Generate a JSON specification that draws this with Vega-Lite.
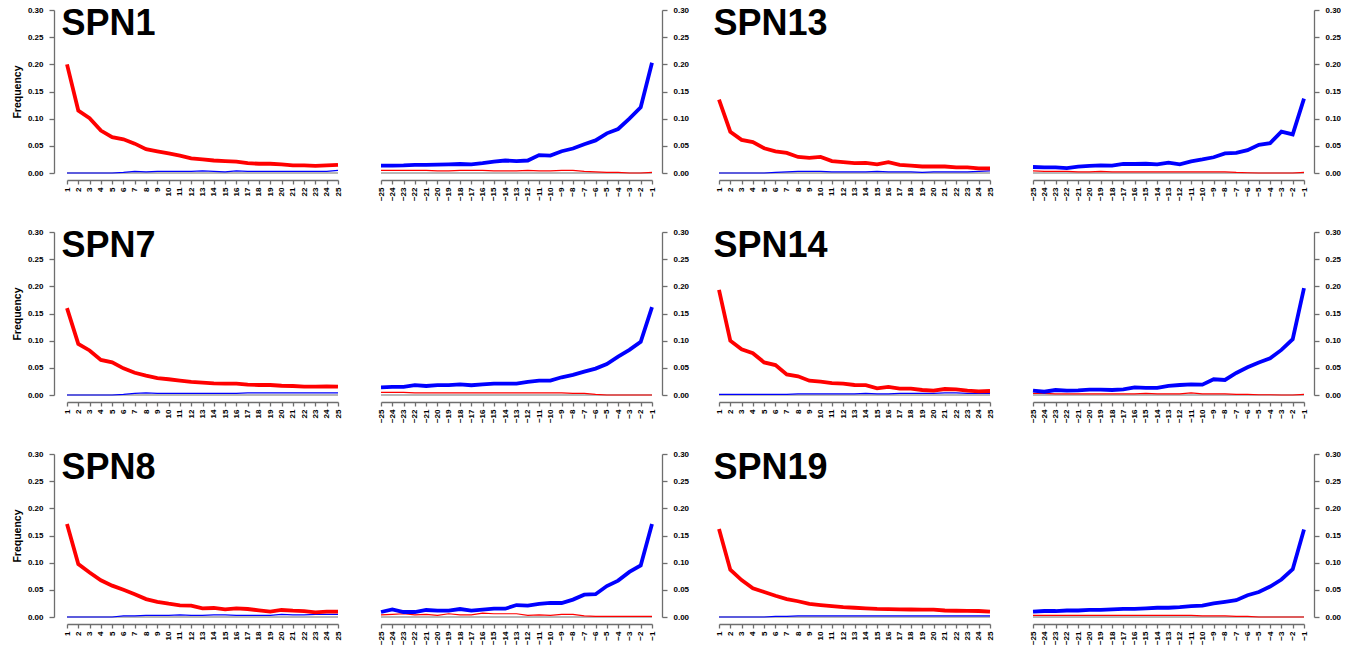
{
"$schema": "https://vega.github.io/schema/vega-lite/v6.json",
"padding": {"left": 12, "top": 6, "right": 0, "bottom": 0},
"background": "white",
"config": {
 "font": "Liberation Sans",
 "view": {"stroke": null},
 "axis": {"grid": false, "domainColor": "#6e6e6e", "tickColor": "#6e6e6e", "domainWidth": 1.3, "tickWidth": 1.3, "labelColor": "#000000", "labelFont": "Liberation Sans", "labelFontSize": 8, "labelFontWeight": "bold", "titleFont": "Liberation Sans", "titleFontSize": 10.5, "titleFontWeight": "bold", "titleColor": "#000000"}
},
"datasets": {"d": [
{"s":"SPN1","p":1,"ct":0.200,"ga":0},{"s":"SPN1","p":2,"ct":0.115,"ga":0},{"s":"SPN1","p":3,"ct":0.101,"ga":0},{"s":"SPN1","p":4,"ct":0.078,"ga":0},{"s":"SPN1","p":5,"ct":0.066,"ga":0},{"s":"SPN1","p":6,"ct":0.062,"ga":0.001},{"s":"SPN1","p":7,"ct":0.054,"ga":0.003},{"s":"SPN1","p":8,"ct":0.044,"ga":0.002},{"s":"SPN1","p":9,"ct":0.040,"ga":0.003},{"s":"SPN1","p":10,"ct":0.036,"ga":0.003},{"s":"SPN1","p":11,"ct":0.032,"ga":0.003},{"s":"SPN1","p":12,"ct":0.027,"ga":0.003},{"s":"SPN1","p":13,"ct":0.025,"ga":0.004},{"s":"SPN1","p":14,"ct":0.023,"ga":0.003},{"s":"SPN1","p":15,"ct":0.022,"ga":0.002},{"s":"SPN1","p":16,"ct":0.021,"ga":0.004},{"s":"SPN1","p":17,"ct":0.018,"ga":0.003},{"s":"SPN1","p":18,"ct":0.017,"ga":0.003},{"s":"SPN1","p":19,"ct":0.017,"ga":0.003},{"s":"SPN1","p":20,"ct":0.016,"ga":0.003},{"s":"SPN1","p":21,"ct":0.014,"ga":0.003},{"s":"SPN1","p":22,"ct":0.014,"ga":0.003},{"s":"SPN1","p":23,"ct":0.013,"ga":0.003},{"s":"SPN1","p":24,"ct":0.014,"ga":0.003},{"s":"SPN1","p":25,"ct":0.015,"ga":0.005},
{"s":"SPN1","p":-25,"ct":0.005,"ga":0.0135},{"s":"SPN1","p":-24,"ct":0.005,"ga":0.0135},{"s":"SPN1","p":-23,"ct":0.005,"ga":0.014},{"s":"SPN1","p":-22,"ct":0.005,"ga":0.015},{"s":"SPN1","p":-21,"ct":0.005,"ga":0.015},{"s":"SPN1","p":-20,"ct":0.004,"ga":0.0155},{"s":"SPN1","p":-19,"ct":0.004,"ga":0.016},{"s":"SPN1","p":-18,"ct":0.005,"ga":0.0166},{"s":"SPN1","p":-17,"ct":0.005,"ga":0.016},{"s":"SPN1","p":-16,"ct":0.005,"ga":0.018},{"s":"SPN1","p":-15,"ct":0.004,"ga":0.021},{"s":"SPN1","p":-14,"ct":0.004,"ga":0.023},{"s":"SPN1","p":-13,"ct":0.004,"ga":0.022},{"s":"SPN1","p":-12,"ct":0.005,"ga":0.023},{"s":"SPN1","p":-11,"ct":0.004,"ga":0.033},{"s":"SPN1","p":-10,"ct":0.004,"ga":0.032},{"s":"SPN1","p":-9,"ct":0.005,"ga":0.040},{"s":"SPN1","p":-8,"ct":0.005,"ga":0.045},{"s":"SPN1","p":-7,"ct":0.003,"ga":0.053},{"s":"SPN1","p":-6,"ct":0.002,"ga":0.060},{"s":"SPN1","p":-5,"ct":0.001,"ga":0.073},{"s":"SPN1","p":-4,"ct":0.001,"ga":0.081},{"s":"SPN1","p":-3,"ct":0,"ga":0.100},{"s":"SPN1","p":-2,"ct":0,"ga":0.121},{"s":"SPN1","p":-1,"ct":0.001,"ga":0.203},
{"s":"SPN13","p":1,"ct":0.135,"ga":0},{"s":"SPN13","p":2,"ct":0.076,"ga":0},{"s":"SPN13","p":3,"ct":0.061,"ga":0},{"s":"SPN13","p":4,"ct":0.057,"ga":0},{"s":"SPN13","p":5,"ct":0.0455,"ga":0},{"s":"SPN13","p":6,"ct":0.040,"ga":0.001},{"s":"SPN13","p":7,"ct":0.037,"ga":0.002},{"s":"SPN13","p":8,"ct":0.0295,"ga":0.003},{"s":"SPN13","p":9,"ct":0.028,"ga":0.003},{"s":"SPN13","p":10,"ct":0.0295,"ga":0.003},{"s":"SPN13","p":11,"ct":0.022,"ga":0.002},{"s":"SPN13","p":12,"ct":0.020,"ga":0.002},{"s":"SPN13","p":13,"ct":0.018,"ga":0.002},{"s":"SPN13","p":14,"ct":0.0185,"ga":0.002},{"s":"SPN13","p":15,"ct":0.016,"ga":0.003},{"s":"SPN13","p":16,"ct":0.020,"ga":0.002},{"s":"SPN13","p":17,"ct":0.015,"ga":0.002},{"s":"SPN13","p":18,"ct":0.0135,"ga":0.002},{"s":"SPN13","p":19,"ct":0.012,"ga":0.001},{"s":"SPN13","p":20,"ct":0.012,"ga":0.002},{"s":"SPN13","p":21,"ct":0.012,"ga":0.002},{"s":"SPN13","p":22,"ct":0.0105,"ga":0.002},{"s":"SPN13","p":23,"ct":0.0105,"ga":0.002},{"s":"SPN13","p":24,"ct":0.0086,"ga":0.003},{"s":"SPN13","p":25,"ct":0.0086,"ga":0.004},
{"s":"SPN13","p":-25,"ct":0.004,"ga":0.011},{"s":"SPN13","p":-24,"ct":0.003,"ga":0.0105},{"s":"SPN13","p":-23,"ct":0.003,"ga":0.0105},{"s":"SPN13","p":-22,"ct":0.003,"ga":0.009},{"s":"SPN13","p":-21,"ct":0.002,"ga":0.0117},{"s":"SPN13","p":-20,"ct":0.002,"ga":0.013},{"s":"SPN13","p":-19,"ct":0.003,"ga":0.014},{"s":"SPN13","p":-18,"ct":0.002,"ga":0.0135},{"s":"SPN13","p":-17,"ct":0.002,"ga":0.0166},{"s":"SPN13","p":-16,"ct":0.002,"ga":0.0166},{"s":"SPN13","p":-15,"ct":0.002,"ga":0.017},{"s":"SPN13","p":-14,"ct":0.002,"ga":0.016},{"s":"SPN13","p":-13,"ct":0.002,"ga":0.019},{"s":"SPN13","p":-12,"ct":0.002,"ga":0.016},{"s":"SPN13","p":-11,"ct":0.002,"ga":0.0215},{"s":"SPN13","p":-10,"ct":0.002,"ga":0.025},{"s":"SPN13","p":-9,"ct":0.002,"ga":0.029},{"s":"SPN13","p":-8,"ct":0.002,"ga":0.036},{"s":"SPN13","p":-7,"ct":0.001,"ga":0.037},{"s":"SPN13","p":-6,"ct":0.0005,"ga":0.042},{"s":"SPN13","p":-5,"ct":0,"ga":0.052},{"s":"SPN13","p":-4,"ct":0,"ga":0.055},{"s":"SPN13","p":-3,"ct":0,"ga":0.076},{"s":"SPN13","p":-2,"ct":0,"ga":0.071},{"s":"SPN13","p":-1,"ct":0.001,"ga":0.137},
{"s":"SPN7","p":1,"ct":0.160,"ga":0},{"s":"SPN7","p":2,"ct":0.094,"ga":0},{"s":"SPN7","p":3,"ct":0.082,"ga":0},{"s":"SPN7","p":4,"ct":0.0645,"ga":0},{"s":"SPN7","p":5,"ct":0.060,"ga":0},{"s":"SPN7","p":6,"ct":0.049,"ga":0.001},{"s":"SPN7","p":7,"ct":0.041,"ga":0.003},{"s":"SPN7","p":8,"ct":0.0357,"ga":0.004},{"s":"SPN7","p":9,"ct":0.031,"ga":0.003},{"s":"SPN7","p":10,"ct":0.029,"ga":0.003},{"s":"SPN7","p":11,"ct":0.0264,"ga":0.003},{"s":"SPN7","p":12,"ct":0.024,"ga":0.003},{"s":"SPN7","p":13,"ct":0.0227,"ga":0.003},{"s":"SPN7","p":14,"ct":0.0215,"ga":0.003},{"s":"SPN7","p":15,"ct":0.021,"ga":0.003},{"s":"SPN7","p":16,"ct":0.021,"ga":0.003},{"s":"SPN7","p":17,"ct":0.019,"ga":0.004},{"s":"SPN7","p":18,"ct":0.0184,"ga":0.004},{"s":"SPN7","p":19,"ct":0.0184,"ga":0.004},{"s":"SPN7","p":20,"ct":0.017,"ga":0.004},{"s":"SPN7","p":21,"ct":0.0166,"ga":0.004},{"s":"SPN7","p":22,"ct":0.0154,"ga":0.004},{"s":"SPN7","p":23,"ct":0.0154,"ga":0.004},{"s":"SPN7","p":24,"ct":0.016,"ga":0.004},{"s":"SPN7","p":25,"ct":0.0154,"ga":0.004},
{"s":"SPN7","p":-25,"ct":0.005,"ga":0.014},{"s":"SPN7","p":-24,"ct":0.005,"ga":0.0148},{"s":"SPN7","p":-23,"ct":0.005,"ga":0.0148},{"s":"SPN7","p":-22,"ct":0.004,"ga":0.018},{"s":"SPN7","p":-21,"ct":0.004,"ga":0.0166},{"s":"SPN7","p":-20,"ct":0.004,"ga":0.018},{"s":"SPN7","p":-19,"ct":0.004,"ga":0.018},{"s":"SPN7","p":-18,"ct":0.004,"ga":0.0197},{"s":"SPN7","p":-17,"ct":0.004,"ga":0.018},{"s":"SPN7","p":-16,"ct":0.004,"ga":0.0197},{"s":"SPN7","p":-15,"ct":0.004,"ga":0.021},{"s":"SPN7","p":-14,"ct":0.004,"ga":0.021},{"s":"SPN7","p":-13,"ct":0.004,"ga":0.021},{"s":"SPN7","p":-12,"ct":0.004,"ga":0.024},{"s":"SPN7","p":-11,"ct":0.004,"ga":0.0264},{"s":"SPN7","p":-10,"ct":0.004,"ga":0.0264},{"s":"SPN7","p":-9,"ct":0.004,"ga":0.0326},{"s":"SPN7","p":-8,"ct":0.003,"ga":0.037},{"s":"SPN7","p":-7,"ct":0.003,"ga":0.043},{"s":"SPN7","p":-6,"ct":0.001,"ga":0.0486},{"s":"SPN7","p":-5,"ct":0,"ga":0.057},{"s":"SPN7","p":-4,"ct":0,"ga":0.0707},{"s":"SPN7","p":-3,"ct":0,"ga":0.083},{"s":"SPN7","p":-2,"ct":0,"ga":0.098},{"s":"SPN7","p":-1,"ct":0,"ga":0.1617},
{"s":"SPN14","p":1,"ct":0.1936,"ga":0.001},{"s":"SPN14","p":2,"ct":0.100,"ga":0.001},{"s":"SPN14","p":3,"ct":0.084,"ga":0.001},{"s":"SPN14","p":4,"ct":0.077,"ga":0.001},{"s":"SPN14","p":5,"ct":0.060,"ga":0.001},{"s":"SPN14","p":6,"ct":0.055,"ga":0.001},{"s":"SPN14","p":7,"ct":0.038,"ga":0.001},{"s":"SPN14","p":8,"ct":0.0344,"ga":0.002},{"s":"SPN14","p":9,"ct":0.0264,"ga":0.002},{"s":"SPN14","p":10,"ct":0.0246,"ga":0.002},{"s":"SPN14","p":11,"ct":0.022,"ga":0.002},{"s":"SPN14","p":12,"ct":0.021,"ga":0.002},{"s":"SPN14","p":13,"ct":0.0184,"ga":0.002},{"s":"SPN14","p":14,"ct":0.018,"ga":0.003},{"s":"SPN14","p":15,"ct":0.0123,"ga":0.002},{"s":"SPN14","p":16,"ct":0.0148,"ga":0.002},{"s":"SPN14","p":17,"ct":0.0117,"ga":0.003},{"s":"SPN14","p":18,"ct":0.0117,"ga":0.003},{"s":"SPN14","p":19,"ct":0.0092,"ga":0.003},{"s":"SPN14","p":20,"ct":0.008,"ga":0.003},{"s":"SPN14","p":21,"ct":0.011,"ga":0.004},{"s":"SPN14","p":22,"ct":0.0105,"ga":0.004},{"s":"SPN14","p":23,"ct":0.008,"ga":0.003},{"s":"SPN14","p":24,"ct":0.0068,"ga":0.003},{"s":"SPN14","p":25,"ct":0.0074,"ga":0.003},
{"s":"SPN14","p":-25,"ct":0.003,"ga":0.008},{"s":"SPN14","p":-24,"ct":0.003,"ga":0.006},{"s":"SPN14","p":-23,"ct":0.002,"ga":0.0092},{"s":"SPN14","p":-22,"ct":0.002,"ga":0.008},{"s":"SPN14","p":-21,"ct":0.002,"ga":0.0086},{"s":"SPN14","p":-20,"ct":0.002,"ga":0.0098},{"s":"SPN14","p":-19,"ct":0.002,"ga":0.0098},{"s":"SPN14","p":-18,"ct":0.002,"ga":0.0092},{"s":"SPN14","p":-17,"ct":0.002,"ga":0.0105},{"s":"SPN14","p":-16,"ct":0.002,"ga":0.014},{"s":"SPN14","p":-15,"ct":0.003,"ga":0.013},{"s":"SPN14","p":-14,"ct":0.002,"ga":0.013},{"s":"SPN14","p":-13,"ct":0.002,"ga":0.017},{"s":"SPN14","p":-12,"ct":0.002,"ga":0.0184},{"s":"SPN14","p":-11,"ct":0.004,"ga":0.0197},{"s":"SPN14","p":-10,"ct":0.002,"ga":0.019},{"s":"SPN14","p":-9,"ct":0.002,"ga":0.029},{"s":"SPN14","p":-8,"ct":0.002,"ga":0.0277},{"s":"SPN14","p":-7,"ct":0.001,"ga":0.0406},{"s":"SPN14","p":-6,"ct":0.001,"ga":0.051},{"s":"SPN14","p":-5,"ct":0.0005,"ga":0.060},{"s":"SPN14","p":-4,"ct":0.0005,"ga":0.0676},{"s":"SPN14","p":-3,"ct":0,"ga":0.083},{"s":"SPN14","p":-2,"ct":0,"ga":0.1027},{"s":"SPN14","p":-1,"ct":0.001,"ga":0.1967},
{"s":"SPN8","p":1,"ct":0.171,"ga":0},{"s":"SPN8","p":2,"ct":0.0975,"ga":0},{"s":"SPN8","p":3,"ct":0.082,"ga":0},{"s":"SPN8","p":4,"ct":0.0675,"ga":0},{"s":"SPN8","p":5,"ct":0.0577,"ga":0},{"s":"SPN8","p":6,"ct":0.050,"ga":0.002},{"s":"SPN8","p":7,"ct":0.042,"ga":0.002},{"s":"SPN8","p":8,"ct":0.033,"ga":0.003},{"s":"SPN8","p":9,"ct":0.028,"ga":0.003},{"s":"SPN8","p":10,"ct":0.0245,"ga":0.003},{"s":"SPN8","p":11,"ct":0.0215,"ga":0.004},{"s":"SPN8","p":12,"ct":0.021,"ga":0.003},{"s":"SPN8","p":13,"ct":0.016,"ga":0.003},{"s":"SPN8","p":14,"ct":0.0166,"ga":0.004},{"s":"SPN8","p":15,"ct":0.014,"ga":0.004},{"s":"SPN8","p":16,"ct":0.016,"ga":0.003},{"s":"SPN8","p":17,"ct":0.0147,"ga":0.003},{"s":"SPN8","p":18,"ct":0.0123,"ga":0.003},{"s":"SPN8","p":19,"ct":0.0098,"ga":0.003},{"s":"SPN8","p":20,"ct":0.0129,"ga":0.005},{"s":"SPN8","p":21,"ct":0.0117,"ga":0.004},{"s":"SPN8","p":22,"ct":0.011,"ga":0.004},{"s":"SPN8","p":23,"ct":0.0086,"ga":0.005},{"s":"SPN8","p":24,"ct":0.0098,"ga":0.005},{"s":"SPN8","p":25,"ct":0.0098,"ga":0.005},
{"s":"SPN8","p":-25,"ct":0.004,"ga":0.0092},{"s":"SPN8","p":-24,"ct":0.005,"ga":0.014},{"s":"SPN8","p":-23,"ct":0.006,"ga":0.0092},{"s":"SPN8","p":-22,"ct":0.004,"ga":0.0092},{"s":"SPN8","p":-21,"ct":0.005,"ga":0.0129},{"s":"SPN8","p":-20,"ct":0.003,"ga":0.0117},{"s":"SPN8","p":-19,"ct":0.006,"ga":0.0117},{"s":"SPN8","p":-18,"ct":0.004,"ga":0.0147},{"s":"SPN8","p":-17,"ct":0.004,"ga":0.0117},{"s":"SPN8","p":-16,"ct":0.007,"ga":0.0135},{"s":"SPN8","p":-15,"ct":0.006,"ga":0.0153},{"s":"SPN8","p":-14,"ct":0.006,"ga":0.0153},{"s":"SPN8","p":-13,"ct":0.006,"ga":0.022},{"s":"SPN8","p":-12,"ct":0.003,"ga":0.021},{"s":"SPN8","p":-11,"ct":0.004,"ga":0.024},{"s":"SPN8","p":-10,"ct":0.003,"ga":0.0258},{"s":"SPN8","p":-9,"ct":0.005,"ga":0.0258},{"s":"SPN8","p":-8,"ct":0.005,"ga":0.032},{"s":"SPN8","p":-7,"ct":0.002,"ga":0.041},{"s":"SPN8","p":-6,"ct":0.001,"ga":0.042},{"s":"SPN8","p":-5,"ct":0.001,"ga":0.057},{"s":"SPN8","p":-4,"ct":0.001,"ga":0.067},{"s":"SPN8","p":-3,"ct":0.001,"ga":0.083},{"s":"SPN8","p":-2,"ct":0.001,"ga":0.095},{"s":"SPN8","p":-1,"ct":0.001,"ga":0.171},
{"s":"SPN19","p":1,"ct":0.162,"ga":0},{"s":"SPN19","p":2,"ct":0.087,"ga":0},{"s":"SPN19","p":3,"ct":0.068,"ga":0},{"s":"SPN19","p":4,"ct":0.053,"ga":0},{"s":"SPN19","p":5,"ct":0.046,"ga":0},{"s":"SPN19","p":6,"ct":0.039,"ga":0.001},{"s":"SPN19","p":7,"ct":0.033,"ga":0.001},{"s":"SPN19","p":8,"ct":0.029,"ga":0.002},{"s":"SPN19","p":9,"ct":0.024,"ga":0.002},{"s":"SPN19","p":10,"ct":0.022,"ga":0.002},{"s":"SPN19","p":11,"ct":0.020,"ga":0.002},{"s":"SPN19","p":12,"ct":0.018,"ga":0.002},{"s":"SPN19","p":13,"ct":0.017,"ga":0.002},{"s":"SPN19","p":14,"ct":0.016,"ga":0.002},{"s":"SPN19","p":15,"ct":0.015,"ga":0.002},{"s":"SPN19","p":16,"ct":0.0145,"ga":0.002},{"s":"SPN19","p":17,"ct":0.014,"ga":0.002},{"s":"SPN19","p":18,"ct":0.0138,"ga":0.002},{"s":"SPN19","p":19,"ct":0.0136,"ga":0.002},{"s":"SPN19","p":20,"ct":0.0134,"ga":0.002},{"s":"SPN19","p":21,"ct":0.012,"ga":0.002},{"s":"SPN19","p":22,"ct":0.0115,"ga":0.002},{"s":"SPN19","p":23,"ct":0.0112,"ga":0.002},{"s":"SPN19","p":24,"ct":0.011,"ga":0.002},{"s":"SPN19","p":25,"ct":0.010,"ga":0.002},
{"s":"SPN19","p":-25,"ct":0.003,"ga":0.010},{"s":"SPN19","p":-24,"ct":0.003,"ga":0.011},{"s":"SPN19","p":-23,"ct":0.003,"ga":0.011},{"s":"SPN19","p":-22,"ct":0.003,"ga":0.012},{"s":"SPN19","p":-21,"ct":0.003,"ga":0.012},{"s":"SPN19","p":-20,"ct":0.003,"ga":0.013},{"s":"SPN19","p":-19,"ct":0.003,"ga":0.013},{"s":"SPN19","p":-18,"ct":0.003,"ga":0.014},{"s":"SPN19","p":-17,"ct":0.003,"ga":0.015},{"s":"SPN19","p":-16,"ct":0.003,"ga":0.015},{"s":"SPN19","p":-15,"ct":0.003,"ga":0.016},{"s":"SPN19","p":-14,"ct":0.003,"ga":0.017},{"s":"SPN19","p":-13,"ct":0.003,"ga":0.017},{"s":"SPN19","p":-12,"ct":0.003,"ga":0.018},{"s":"SPN19","p":-11,"ct":0.003,"ga":0.020},{"s":"SPN19","p":-10,"ct":0.002,"ga":0.021},{"s":"SPN19","p":-9,"ct":0.002,"ga":0.025},{"s":"SPN19","p":-8,"ct":0.002,"ga":0.028},{"s":"SPN19","p":-7,"ct":0.001,"ga":0.031},{"s":"SPN19","p":-6,"ct":0.001,"ga":0.040},{"s":"SPN19","p":-5,"ct":0,"ga":0.046},{"s":"SPN19","p":-4,"ct":0,"ga":0.056},{"s":"SPN19","p":-3,"ct":0,"ga":0.069},{"s":"SPN19","p":-2,"ct":0,"ga":0.088},{"s":"SPN19","p":-1,"ct":0,"ga":0.161}
]},
"spacing": 22,
"hconcat": [
{"concat": [
  {"width": 271, "height": 163, "layer": [
   {"data": {"values": [{"z": 0}]}, "mark": {"type": "rule", "color": "#a0a0a0", "strokeWidth": 1.3}, "encoding": {"y": {"field": "z", "type": "quantitative", "scale": {"domain": [0, 0.3], "nice": false}, "axis": {"values": [0, 0.05, 0.1, 0.15, 0.2, 0.25, 0.3], "format": ".2f", "tickSize": 5, "labelPadding": 6, "offset": 13, "title": "Frequency", "titlePadding": 5}}}},
   {"data": {"name": "d"}, "transform": [{"filter": "datum.s === 'SPN1' && datum.p > 0"}], "mark": {"type": "line", "color": "#0000ff", "strokeWidth": 1.2}, "encoding": {"x": {"field": "p", "type": "quantitative", "scale": {"domain": [1, 25], "nice": false, "zero": false}, "axis": {"values": [1,2,3,4,5,6,7,8,9,10,11,12,13,14,15,16,17,18,19,20,21,22,23,24,25], "format": "d", "labelAngle": -90, "labelOverlap": false, "labelFlush": false, "labelBound": false, "tickSize": 4, "labelPadding": 3, "offset": 7, "title": null}}, "y": {"field": "ga", "type": "quantitative", "scale": {"domain": [0, 0.3], "nice": false}, "axis": {"values": [0, 0.05, 0.1, 0.15, 0.2, 0.25, 0.3], "format": ".2f", "tickSize": 5, "labelPadding": 6, "offset": 13, "title": "Frequency", "titlePadding": 5}}}},
   {"data": {"name": "d"}, "transform": [{"filter": "datum.s === 'SPN1' && datum.p > 0"}], "mark": {"type": "line", "color": "#ff0000", "strokeWidth": 3.8}, "encoding": {"x": {"field": "p", "type": "quantitative", "scale": {"domain": [1, 25], "nice": false, "zero": false}, "axis": {"values": [1,2,3,4,5,6,7,8,9,10,11,12,13,14,15,16,17,18,19,20,21,22,23,24,25], "format": "d", "labelAngle": -90, "labelOverlap": false, "labelFlush": false, "labelBound": false, "tickSize": 4, "labelPadding": 3, "offset": 7, "title": null}}, "y": {"field": "ct", "type": "quantitative", "scale": {"domain": [0, 0.3], "nice": false}, "axis": {"values": [0, 0.05, 0.1, 0.15, 0.2, 0.25, 0.3], "format": ".2f", "tickSize": 5, "labelPadding": 6, "offset": 13, "title": "Frequency", "titlePadding": 5}}}},
   {"data": {"values": [{"t": "SPN1"}]}, "mark": {"type": "text", "align": "left", "baseline": "alphabetic", "fontSize": 36, "fontWeight": "bold", "font": "Liberation Sans", "color": "#000000", "dx": -5.5, "dy": 25}, "encoding": {"x": {"datum": 1, "type": "quantitative", "scale": {"domain": [1, 25], "nice": false, "zero": false}, "axis": {"values": [1,2,3,4,5,6,7,8,9,10,11,12,13,14,15,16,17,18,19,20,21,22,23,24,25], "format": "d", "labelAngle": -90, "labelOverlap": false, "labelFlush": false, "labelBound": false, "tickSize": 4, "labelPadding": 3, "offset": 7, "title": null}}, "y": {"datum": 0.3, "type": "quantitative", "scale": {"domain": [0, 0.3], "nice": false}, "axis": {"values": [0, 0.05, 0.1, 0.15, 0.2, 0.25, 0.3], "format": ".2f", "tickSize": 5, "labelPadding": 6, "offset": 13, "title": "Frequency", "titlePadding": 5}}, "text": {"field": "t"}}}
  ]},
  {"width": 271, "height": 163, "layer": [
   {"data": {"values": [{"z": 0}]}, "mark": {"type": "rule", "color": "#a0a0a0", "strokeWidth": 1.3}, "encoding": {"y": {"field": "z", "type": "quantitative", "scale": {"domain": [0, 0.3], "nice": false}, "axis": {"orient": "right", "values": [0, 0.05, 0.1, 0.15, 0.2, 0.25, 0.3], "format": ".2f", "tickSize": 5, "labelPadding": 6, "offset": 10, "title": null}}}},
   {"data": {"name": "d"}, "transform": [{"filter": "datum.s === 'SPN1' && datum.p < 0"}], "mark": {"type": "line", "color": "#ff0000", "strokeWidth": 1.2}, "encoding": {"x": {"field": "p", "type": "quantitative", "scale": {"domain": [-25, -1], "nice": false, "zero": false}, "axis": {"values": [-25,-24,-23,-22,-21,-20,-19,-18,-17,-16,-15,-14,-13,-12,-11,-10,-9,-8,-7,-6,-5,-4,-3,-2,-1], "format": "d", "labelAngle": -90, "labelOverlap": false, "labelFlush": false, "labelBound": false, "tickSize": 4, "labelPadding": 3, "offset": 7, "title": null}}, "y": {"field": "ct", "type": "quantitative", "scale": {"domain": [0, 0.3], "nice": false}, "axis": {"orient": "right", "values": [0, 0.05, 0.1, 0.15, 0.2, 0.25, 0.3], "format": ".2f", "tickSize": 5, "labelPadding": 6, "offset": 10, "title": null}}}},
   {"data": {"name": "d"}, "transform": [{"filter": "datum.s === 'SPN1' && datum.p < 0"}], "mark": {"type": "line", "color": "#0000ff", "strokeWidth": 3.8}, "encoding": {"x": {"field": "p", "type": "quantitative", "scale": {"domain": [-25, -1], "nice": false, "zero": false}, "axis": {"values": [-25,-24,-23,-22,-21,-20,-19,-18,-17,-16,-15,-14,-13,-12,-11,-10,-9,-8,-7,-6,-5,-4,-3,-2,-1], "format": "d", "labelAngle": -90, "labelOverlap": false, "labelFlush": false, "labelBound": false, "tickSize": 4, "labelPadding": 3, "offset": 7, "title": null}}, "y": {"field": "ga", "type": "quantitative", "scale": {"domain": [0, 0.3], "nice": false}, "axis": {"orient": "right", "values": [0, 0.05, 0.1, 0.15, 0.2, 0.25, 0.3], "format": ".2f", "tickSize": 5, "labelPadding": 6, "offset": 10, "title": null}}}}
  ]},
  {"width": 271, "height": 163, "layer": [
   {"data": {"values": [{"z": 0}]}, "mark": {"type": "rule", "color": "#a0a0a0", "strokeWidth": 1.3}, "encoding": {"y": {"field": "z", "type": "quantitative", "scale": {"domain": [0, 0.3], "nice": false}, "axis": {"values": [0, 0.05, 0.1, 0.15, 0.2, 0.25, 0.3], "format": ".2f", "tickSize": 5, "labelPadding": 6, "offset": 13, "title": "Frequency", "titlePadding": 5}}}},
   {"data": {"name": "d"}, "transform": [{"filter": "datum.s === 'SPN7' && datum.p > 0"}], "mark": {"type": "line", "color": "#0000ff", "strokeWidth": 1.2}, "encoding": {"x": {"field": "p", "type": "quantitative", "scale": {"domain": [1, 25], "nice": false, "zero": false}, "axis": {"values": [1,2,3,4,5,6,7,8,9,10,11,12,13,14,15,16,17,18,19,20,21,22,23,24,25], "format": "d", "labelAngle": -90, "labelOverlap": false, "labelFlush": false, "labelBound": false, "tickSize": 4, "labelPadding": 3, "offset": 7, "title": null}}, "y": {"field": "ga", "type": "quantitative", "scale": {"domain": [0, 0.3], "nice": false}, "axis": {"values": [0, 0.05, 0.1, 0.15, 0.2, 0.25, 0.3], "format": ".2f", "tickSize": 5, "labelPadding": 6, "offset": 13, "title": "Frequency", "titlePadding": 5}}}},
   {"data": {"name": "d"}, "transform": [{"filter": "datum.s === 'SPN7' && datum.p > 0"}], "mark": {"type": "line", "color": "#ff0000", "strokeWidth": 3.8}, "encoding": {"x": {"field": "p", "type": "quantitative", "scale": {"domain": [1, 25], "nice": false, "zero": false}, "axis": {"values": [1,2,3,4,5,6,7,8,9,10,11,12,13,14,15,16,17,18,19,20,21,22,23,24,25], "format": "d", "labelAngle": -90, "labelOverlap": false, "labelFlush": false, "labelBound": false, "tickSize": 4, "labelPadding": 3, "offset": 7, "title": null}}, "y": {"field": "ct", "type": "quantitative", "scale": {"domain": [0, 0.3], "nice": false}, "axis": {"values": [0, 0.05, 0.1, 0.15, 0.2, 0.25, 0.3], "format": ".2f", "tickSize": 5, "labelPadding": 6, "offset": 13, "title": "Frequency", "titlePadding": 5}}}},
   {"data": {"values": [{"t": "SPN7"}]}, "mark": {"type": "text", "align": "left", "baseline": "alphabetic", "fontSize": 36, "fontWeight": "bold", "font": "Liberation Sans", "color": "#000000", "dx": -5.5, "dy": 25}, "encoding": {"x": {"datum": 1, "type": "quantitative", "scale": {"domain": [1, 25], "nice": false, "zero": false}, "axis": {"values": [1,2,3,4,5,6,7,8,9,10,11,12,13,14,15,16,17,18,19,20,21,22,23,24,25], "format": "d", "labelAngle": -90, "labelOverlap": false, "labelFlush": false, "labelBound": false, "tickSize": 4, "labelPadding": 3, "offset": 7, "title": null}}, "y": {"datum": 0.3, "type": "quantitative", "scale": {"domain": [0, 0.3], "nice": false}, "axis": {"values": [0, 0.05, 0.1, 0.15, 0.2, 0.25, 0.3], "format": ".2f", "tickSize": 5, "labelPadding": 6, "offset": 13, "title": "Frequency", "titlePadding": 5}}, "text": {"field": "t"}}}
  ]},
  {"width": 271, "height": 163, "layer": [
   {"data": {"values": [{"z": 0}]}, "mark": {"type": "rule", "color": "#a0a0a0", "strokeWidth": 1.3}, "encoding": {"y": {"field": "z", "type": "quantitative", "scale": {"domain": [0, 0.3], "nice": false}, "axis": {"orient": "right", "values": [0, 0.05, 0.1, 0.15, 0.2, 0.25, 0.3], "format": ".2f", "tickSize": 5, "labelPadding": 6, "offset": 10, "title": null}}}},
   {"data": {"name": "d"}, "transform": [{"filter": "datum.s === 'SPN7' && datum.p < 0"}], "mark": {"type": "line", "color": "#ff0000", "strokeWidth": 1.2}, "encoding": {"x": {"field": "p", "type": "quantitative", "scale": {"domain": [-25, -1], "nice": false, "zero": false}, "axis": {"values": [-25,-24,-23,-22,-21,-20,-19,-18,-17,-16,-15,-14,-13,-12,-11,-10,-9,-8,-7,-6,-5,-4,-3,-2,-1], "format": "d", "labelAngle": -90, "labelOverlap": false, "labelFlush": false, "labelBound": false, "tickSize": 4, "labelPadding": 3, "offset": 7, "title": null}}, "y": {"field": "ct", "type": "quantitative", "scale": {"domain": [0, 0.3], "nice": false}, "axis": {"orient": "right", "values": [0, 0.05, 0.1, 0.15, 0.2, 0.25, 0.3], "format": ".2f", "tickSize": 5, "labelPadding": 6, "offset": 10, "title": null}}}},
   {"data": {"name": "d"}, "transform": [{"filter": "datum.s === 'SPN7' && datum.p < 0"}], "mark": {"type": "line", "color": "#0000ff", "strokeWidth": 3.8}, "encoding": {"x": {"field": "p", "type": "quantitative", "scale": {"domain": [-25, -1], "nice": false, "zero": false}, "axis": {"values": [-25,-24,-23,-22,-21,-20,-19,-18,-17,-16,-15,-14,-13,-12,-11,-10,-9,-8,-7,-6,-5,-4,-3,-2,-1], "format": "d", "labelAngle": -90, "labelOverlap": false, "labelFlush": false, "labelBound": false, "tickSize": 4, "labelPadding": 3, "offset": 7, "title": null}}, "y": {"field": "ga", "type": "quantitative", "scale": {"domain": [0, 0.3], "nice": false}, "axis": {"orient": "right", "values": [0, 0.05, 0.1, 0.15, 0.2, 0.25, 0.3], "format": ".2f", "tickSize": 5, "labelPadding": 6, "offset": 10, "title": null}}}}
  ]},
  {"width": 271, "height": 163, "layer": [
   {"data": {"values": [{"z": 0}]}, "mark": {"type": "rule", "color": "#a0a0a0", "strokeWidth": 1.3}, "encoding": {"y": {"field": "z", "type": "quantitative", "scale": {"domain": [0, 0.3], "nice": false}, "axis": {"values": [0, 0.05, 0.1, 0.15, 0.2, 0.25, 0.3], "format": ".2f", "tickSize": 5, "labelPadding": 6, "offset": 13, "title": "Frequency", "titlePadding": 5}}}},
   {"data": {"name": "d"}, "transform": [{"filter": "datum.s === 'SPN8' && datum.p > 0"}], "mark": {"type": "line", "color": "#0000ff", "strokeWidth": 1.2}, "encoding": {"x": {"field": "p", "type": "quantitative", "scale": {"domain": [1, 25], "nice": false, "zero": false}, "axis": {"values": [1,2,3,4,5,6,7,8,9,10,11,12,13,14,15,16,17,18,19,20,21,22,23,24,25], "format": "d", "labelAngle": -90, "labelOverlap": false, "labelFlush": false, "labelBound": false, "tickSize": 4, "labelPadding": 3, "offset": 7, "title": null}}, "y": {"field": "ga", "type": "quantitative", "scale": {"domain": [0, 0.3], "nice": false}, "axis": {"values": [0, 0.05, 0.1, 0.15, 0.2, 0.25, 0.3], "format": ".2f", "tickSize": 5, "labelPadding": 6, "offset": 13, "title": "Frequency", "titlePadding": 5}}}},
   {"data": {"name": "d"}, "transform": [{"filter": "datum.s === 'SPN8' && datum.p > 0"}], "mark": {"type": "line", "color": "#ff0000", "strokeWidth": 3.8}, "encoding": {"x": {"field": "p", "type": "quantitative", "scale": {"domain": [1, 25], "nice": false, "zero": false}, "axis": {"values": [1,2,3,4,5,6,7,8,9,10,11,12,13,14,15,16,17,18,19,20,21,22,23,24,25], "format": "d", "labelAngle": -90, "labelOverlap": false, "labelFlush": false, "labelBound": false, "tickSize": 4, "labelPadding": 3, "offset": 7, "title": null}}, "y": {"field": "ct", "type": "quantitative", "scale": {"domain": [0, 0.3], "nice": false}, "axis": {"values": [0, 0.05, 0.1, 0.15, 0.2, 0.25, 0.3], "format": ".2f", "tickSize": 5, "labelPadding": 6, "offset": 13, "title": "Frequency", "titlePadding": 5}}}},
   {"data": {"values": [{"t": "SPN8"}]}, "mark": {"type": "text", "align": "left", "baseline": "alphabetic", "fontSize": 36, "fontWeight": "bold", "font": "Liberation Sans", "color": "#000000", "dx": -5.5, "dy": 25}, "encoding": {"x": {"datum": 1, "type": "quantitative", "scale": {"domain": [1, 25], "nice": false, "zero": false}, "axis": {"values": [1,2,3,4,5,6,7,8,9,10,11,12,13,14,15,16,17,18,19,20,21,22,23,24,25], "format": "d", "labelAngle": -90, "labelOverlap": false, "labelFlush": false, "labelBound": false, "tickSize": 4, "labelPadding": 3, "offset": 7, "title": null}}, "y": {"datum": 0.3, "type": "quantitative", "scale": {"domain": [0, 0.3], "nice": false}, "axis": {"values": [0, 0.05, 0.1, 0.15, 0.2, 0.25, 0.3], "format": ".2f", "tickSize": 5, "labelPadding": 6, "offset": 13, "title": "Frequency", "titlePadding": 5}}, "text": {"field": "t"}}}
  ]},
  {"width": 271, "height": 163, "layer": [
   {"data": {"values": [{"z": 0}]}, "mark": {"type": "rule", "color": "#a0a0a0", "strokeWidth": 1.3}, "encoding": {"y": {"field": "z", "type": "quantitative", "scale": {"domain": [0, 0.3], "nice": false}, "axis": {"orient": "right", "values": [0, 0.05, 0.1, 0.15, 0.2, 0.25, 0.3], "format": ".2f", "tickSize": 5, "labelPadding": 6, "offset": 10, "title": null}}}},
   {"data": {"name": "d"}, "transform": [{"filter": "datum.s === 'SPN8' && datum.p < 0"}], "mark": {"type": "line", "color": "#ff0000", "strokeWidth": 1.2}, "encoding": {"x": {"field": "p", "type": "quantitative", "scale": {"domain": [-25, -1], "nice": false, "zero": false}, "axis": {"values": [-25,-24,-23,-22,-21,-20,-19,-18,-17,-16,-15,-14,-13,-12,-11,-10,-9,-8,-7,-6,-5,-4,-3,-2,-1], "format": "d", "labelAngle": -90, "labelOverlap": false, "labelFlush": false, "labelBound": false, "tickSize": 4, "labelPadding": 3, "offset": 7, "title": null}}, "y": {"field": "ct", "type": "quantitative", "scale": {"domain": [0, 0.3], "nice": false}, "axis": {"orient": "right", "values": [0, 0.05, 0.1, 0.15, 0.2, 0.25, 0.3], "format": ".2f", "tickSize": 5, "labelPadding": 6, "offset": 10, "title": null}}}},
   {"data": {"name": "d"}, "transform": [{"filter": "datum.s === 'SPN8' && datum.p < 0"}], "mark": {"type": "line", "color": "#0000ff", "strokeWidth": 3.8}, "encoding": {"x": {"field": "p", "type": "quantitative", "scale": {"domain": [-25, -1], "nice": false, "zero": false}, "axis": {"values": [-25,-24,-23,-22,-21,-20,-19,-18,-17,-16,-15,-14,-13,-12,-11,-10,-9,-8,-7,-6,-5,-4,-3,-2,-1], "format": "d", "labelAngle": -90, "labelOverlap": false, "labelFlush": false, "labelBound": false, "tickSize": 4, "labelPadding": 3, "offset": 7, "title": null}}, "y": {"field": "ga", "type": "quantitative", "scale": {"domain": [0, 0.3], "nice": false}, "axis": {"orient": "right", "values": [0, 0.05, 0.1, 0.15, 0.2, 0.25, 0.3], "format": ".2f", "tickSize": 5, "labelPadding": 6, "offset": 10, "title": null}}}}
  ]}
 ], "columns": 2, "spacing": {"row": 59, "column": 43}, "bounds": "flush"},
{"concat": [
  {"width": 271, "height": 163, "layer": [
   {"data": {"values": [{"z": 0}]}, "mark": {"type": "rule", "color": "#a0a0a0", "strokeWidth": 1.3}, "encoding": {"y": {"field": "z", "type": "quantitative", "scale": {"domain": [0, 0.3], "nice": false}, "axis": null}}},
   {"data": {"name": "d"}, "transform": [{"filter": "datum.s === 'SPN13' && datum.p > 0"}], "mark": {"type": "line", "color": "#0000ff", "strokeWidth": 1.2}, "encoding": {"x": {"field": "p", "type": "quantitative", "scale": {"domain": [1, 25], "nice": false, "zero": false}, "axis": {"values": [1,2,3,4,5,6,7,8,9,10,11,12,13,14,15,16,17,18,19,20,21,22,23,24,25], "format": "d", "labelAngle": -90, "labelOverlap": false, "labelFlush": false, "labelBound": false, "tickSize": 4, "labelPadding": 3, "offset": 7, "title": null}}, "y": {"field": "ga", "type": "quantitative", "scale": {"domain": [0, 0.3], "nice": false}, "axis": null}}},
   {"data": {"name": "d"}, "transform": [{"filter": "datum.s === 'SPN13' && datum.p > 0"}], "mark": {"type": "line", "color": "#ff0000", "strokeWidth": 3.8}, "encoding": {"x": {"field": "p", "type": "quantitative", "scale": {"domain": [1, 25], "nice": false, "zero": false}, "axis": {"values": [1,2,3,4,5,6,7,8,9,10,11,12,13,14,15,16,17,18,19,20,21,22,23,24,25], "format": "d", "labelAngle": -90, "labelOverlap": false, "labelFlush": false, "labelBound": false, "tickSize": 4, "labelPadding": 3, "offset": 7, "title": null}}, "y": {"field": "ct", "type": "quantitative", "scale": {"domain": [0, 0.3], "nice": false}, "axis": null}}},
   {"data": {"values": [{"t": "SPN13"}]}, "mark": {"type": "text", "align": "left", "baseline": "alphabetic", "fontSize": 36, "fontWeight": "bold", "font": "Liberation Sans", "color": "#000000", "dx": -5.5, "dy": 25}, "encoding": {"x": {"datum": 1, "type": "quantitative", "scale": {"domain": [1, 25], "nice": false, "zero": false}, "axis": {"values": [1,2,3,4,5,6,7,8,9,10,11,12,13,14,15,16,17,18,19,20,21,22,23,24,25], "format": "d", "labelAngle": -90, "labelOverlap": false, "labelFlush": false, "labelBound": false, "tickSize": 4, "labelPadding": 3, "offset": 7, "title": null}}, "y": {"datum": 0.3, "type": "quantitative", "scale": {"domain": [0, 0.3], "nice": false}, "axis": null}, "text": {"field": "t"}}}
  ]},
  {"width": 271, "height": 163, "layer": [
   {"data": {"values": [{"z": 0}]}, "mark": {"type": "rule", "color": "#a0a0a0", "strokeWidth": 1.3}, "encoding": {"y": {"field": "z", "type": "quantitative", "scale": {"domain": [0, 0.3], "nice": false}, "axis": {"orient": "right", "values": [0, 0.05, 0.1, 0.15, 0.2, 0.25, 0.3], "format": ".2f", "tickSize": 5, "labelPadding": 6, "offset": 10, "title": null}}}},
   {"data": {"name": "d"}, "transform": [{"filter": "datum.s === 'SPN13' && datum.p < 0"}], "mark": {"type": "line", "color": "#ff0000", "strokeWidth": 1.2}, "encoding": {"x": {"field": "p", "type": "quantitative", "scale": {"domain": [-25, -1], "nice": false, "zero": false}, "axis": {"values": [-25,-24,-23,-22,-21,-20,-19,-18,-17,-16,-15,-14,-13,-12,-11,-10,-9,-8,-7,-6,-5,-4,-3,-2,-1], "format": "d", "labelAngle": -90, "labelOverlap": false, "labelFlush": false, "labelBound": false, "tickSize": 4, "labelPadding": 3, "offset": 7, "title": null}}, "y": {"field": "ct", "type": "quantitative", "scale": {"domain": [0, 0.3], "nice": false}, "axis": {"orient": "right", "values": [0, 0.05, 0.1, 0.15, 0.2, 0.25, 0.3], "format": ".2f", "tickSize": 5, "labelPadding": 6, "offset": 10, "title": null}}}},
   {"data": {"name": "d"}, "transform": [{"filter": "datum.s === 'SPN13' && datum.p < 0"}], "mark": {"type": "line", "color": "#0000ff", "strokeWidth": 3.8}, "encoding": {"x": {"field": "p", "type": "quantitative", "scale": {"domain": [-25, -1], "nice": false, "zero": false}, "axis": {"values": [-25,-24,-23,-22,-21,-20,-19,-18,-17,-16,-15,-14,-13,-12,-11,-10,-9,-8,-7,-6,-5,-4,-3,-2,-1], "format": "d", "labelAngle": -90, "labelOverlap": false, "labelFlush": false, "labelBound": false, "tickSize": 4, "labelPadding": 3, "offset": 7, "title": null}}, "y": {"field": "ga", "type": "quantitative", "scale": {"domain": [0, 0.3], "nice": false}, "axis": {"orient": "right", "values": [0, 0.05, 0.1, 0.15, 0.2, 0.25, 0.3], "format": ".2f", "tickSize": 5, "labelPadding": 6, "offset": 10, "title": null}}}}
  ]},
  {"width": 271, "height": 163, "layer": [
   {"data": {"values": [{"z": 0}]}, "mark": {"type": "rule", "color": "#a0a0a0", "strokeWidth": 1.3}, "encoding": {"y": {"field": "z", "type": "quantitative", "scale": {"domain": [0, 0.3], "nice": false}, "axis": null}}},
   {"data": {"name": "d"}, "transform": [{"filter": "datum.s === 'SPN14' && datum.p > 0"}], "mark": {"type": "line", "color": "#0000ff", "strokeWidth": 1.2}, "encoding": {"x": {"field": "p", "type": "quantitative", "scale": {"domain": [1, 25], "nice": false, "zero": false}, "axis": {"values": [1,2,3,4,5,6,7,8,9,10,11,12,13,14,15,16,17,18,19,20,21,22,23,24,25], "format": "d", "labelAngle": -90, "labelOverlap": false, "labelFlush": false, "labelBound": false, "tickSize": 4, "labelPadding": 3, "offset": 7, "title": null}}, "y": {"field": "ga", "type": "quantitative", "scale": {"domain": [0, 0.3], "nice": false}, "axis": null}}},
   {"data": {"name": "d"}, "transform": [{"filter": "datum.s === 'SPN14' && datum.p > 0"}], "mark": {"type": "line", "color": "#ff0000", "strokeWidth": 3.8}, "encoding": {"x": {"field": "p", "type": "quantitative", "scale": {"domain": [1, 25], "nice": false, "zero": false}, "axis": {"values": [1,2,3,4,5,6,7,8,9,10,11,12,13,14,15,16,17,18,19,20,21,22,23,24,25], "format": "d", "labelAngle": -90, "labelOverlap": false, "labelFlush": false, "labelBound": false, "tickSize": 4, "labelPadding": 3, "offset": 7, "title": null}}, "y": {"field": "ct", "type": "quantitative", "scale": {"domain": [0, 0.3], "nice": false}, "axis": null}}},
   {"data": {"values": [{"t": "SPN14"}]}, "mark": {"type": "text", "align": "left", "baseline": "alphabetic", "fontSize": 36, "fontWeight": "bold", "font": "Liberation Sans", "color": "#000000", "dx": -5.5, "dy": 25}, "encoding": {"x": {"datum": 1, "type": "quantitative", "scale": {"domain": [1, 25], "nice": false, "zero": false}, "axis": {"values": [1,2,3,4,5,6,7,8,9,10,11,12,13,14,15,16,17,18,19,20,21,22,23,24,25], "format": "d", "labelAngle": -90, "labelOverlap": false, "labelFlush": false, "labelBound": false, "tickSize": 4, "labelPadding": 3, "offset": 7, "title": null}}, "y": {"datum": 0.3, "type": "quantitative", "scale": {"domain": [0, 0.3], "nice": false}, "axis": null}, "text": {"field": "t"}}}
  ]},
  {"width": 271, "height": 163, "layer": [
   {"data": {"values": [{"z": 0}]}, "mark": {"type": "rule", "color": "#a0a0a0", "strokeWidth": 1.3}, "encoding": {"y": {"field": "z", "type": "quantitative", "scale": {"domain": [0, 0.3], "nice": false}, "axis": {"orient": "right", "values": [0, 0.05, 0.1, 0.15, 0.2, 0.25, 0.3], "format": ".2f", "tickSize": 5, "labelPadding": 6, "offset": 10, "title": null}}}},
   {"data": {"name": "d"}, "transform": [{"filter": "datum.s === 'SPN14' && datum.p < 0"}], "mark": {"type": "line", "color": "#ff0000", "strokeWidth": 1.2}, "encoding": {"x": {"field": "p", "type": "quantitative", "scale": {"domain": [-25, -1], "nice": false, "zero": false}, "axis": {"values": [-25,-24,-23,-22,-21,-20,-19,-18,-17,-16,-15,-14,-13,-12,-11,-10,-9,-8,-7,-6,-5,-4,-3,-2,-1], "format": "d", "labelAngle": -90, "labelOverlap": false, "labelFlush": false, "labelBound": false, "tickSize": 4, "labelPadding": 3, "offset": 7, "title": null}}, "y": {"field": "ct", "type": "quantitative", "scale": {"domain": [0, 0.3], "nice": false}, "axis": {"orient": "right", "values": [0, 0.05, 0.1, 0.15, 0.2, 0.25, 0.3], "format": ".2f", "tickSize": 5, "labelPadding": 6, "offset": 10, "title": null}}}},
   {"data": {"name": "d"}, "transform": [{"filter": "datum.s === 'SPN14' && datum.p < 0"}], "mark": {"type": "line", "color": "#0000ff", "strokeWidth": 3.8}, "encoding": {"x": {"field": "p", "type": "quantitative", "scale": {"domain": [-25, -1], "nice": false, "zero": false}, "axis": {"values": [-25,-24,-23,-22,-21,-20,-19,-18,-17,-16,-15,-14,-13,-12,-11,-10,-9,-8,-7,-6,-5,-4,-3,-2,-1], "format": "d", "labelAngle": -90, "labelOverlap": false, "labelFlush": false, "labelBound": false, "tickSize": 4, "labelPadding": 3, "offset": 7, "title": null}}, "y": {"field": "ga", "type": "quantitative", "scale": {"domain": [0, 0.3], "nice": false}, "axis": {"orient": "right", "values": [0, 0.05, 0.1, 0.15, 0.2, 0.25, 0.3], "format": ".2f", "tickSize": 5, "labelPadding": 6, "offset": 10, "title": null}}}}
  ]},
  {"width": 271, "height": 163, "layer": [
   {"data": {"values": [{"z": 0}]}, "mark": {"type": "rule", "color": "#a0a0a0", "strokeWidth": 1.3}, "encoding": {"y": {"field": "z", "type": "quantitative", "scale": {"domain": [0, 0.3], "nice": false}, "axis": null}}},
   {"data": {"name": "d"}, "transform": [{"filter": "datum.s === 'SPN19' && datum.p > 0"}], "mark": {"type": "line", "color": "#0000ff", "strokeWidth": 1.2}, "encoding": {"x": {"field": "p", "type": "quantitative", "scale": {"domain": [1, 25], "nice": false, "zero": false}, "axis": {"values": [1,2,3,4,5,6,7,8,9,10,11,12,13,14,15,16,17,18,19,20,21,22,23,24,25], "format": "d", "labelAngle": -90, "labelOverlap": false, "labelFlush": false, "labelBound": false, "tickSize": 4, "labelPadding": 3, "offset": 7, "title": null}}, "y": {"field": "ga", "type": "quantitative", "scale": {"domain": [0, 0.3], "nice": false}, "axis": null}}},
   {"data": {"name": "d"}, "transform": [{"filter": "datum.s === 'SPN19' && datum.p > 0"}], "mark": {"type": "line", "color": "#ff0000", "strokeWidth": 3.8}, "encoding": {"x": {"field": "p", "type": "quantitative", "scale": {"domain": [1, 25], "nice": false, "zero": false}, "axis": {"values": [1,2,3,4,5,6,7,8,9,10,11,12,13,14,15,16,17,18,19,20,21,22,23,24,25], "format": "d", "labelAngle": -90, "labelOverlap": false, "labelFlush": false, "labelBound": false, "tickSize": 4, "labelPadding": 3, "offset": 7, "title": null}}, "y": {"field": "ct", "type": "quantitative", "scale": {"domain": [0, 0.3], "nice": false}, "axis": null}}},
   {"data": {"values": [{"t": "SPN19"}]}, "mark": {"type": "text", "align": "left", "baseline": "alphabetic", "fontSize": 36, "fontWeight": "bold", "font": "Liberation Sans", "color": "#000000", "dx": -5.5, "dy": 25}, "encoding": {"x": {"datum": 1, "type": "quantitative", "scale": {"domain": [1, 25], "nice": false, "zero": false}, "axis": {"values": [1,2,3,4,5,6,7,8,9,10,11,12,13,14,15,16,17,18,19,20,21,22,23,24,25], "format": "d", "labelAngle": -90, "labelOverlap": false, "labelFlush": false, "labelBound": false, "tickSize": 4, "labelPadding": 3, "offset": 7, "title": null}}, "y": {"datum": 0.3, "type": "quantitative", "scale": {"domain": [0, 0.3], "nice": false}, "axis": null}, "text": {"field": "t"}}}
  ]},
  {"width": 271, "height": 163, "layer": [
   {"data": {"values": [{"z": 0}]}, "mark": {"type": "rule", "color": "#a0a0a0", "strokeWidth": 1.3}, "encoding": {"y": {"field": "z", "type": "quantitative", "scale": {"domain": [0, 0.3], "nice": false}, "axis": {"orient": "right", "values": [0, 0.05, 0.1, 0.15, 0.2, 0.25, 0.3], "format": ".2f", "tickSize": 5, "labelPadding": 6, "offset": 10, "title": null}}}},
   {"data": {"name": "d"}, "transform": [{"filter": "datum.s === 'SPN19' && datum.p < 0"}], "mark": {"type": "line", "color": "#ff0000", "strokeWidth": 1.2}, "encoding": {"x": {"field": "p", "type": "quantitative", "scale": {"domain": [-25, -1], "nice": false, "zero": false}, "axis": {"values": [-25,-24,-23,-22,-21,-20,-19,-18,-17,-16,-15,-14,-13,-12,-11,-10,-9,-8,-7,-6,-5,-4,-3,-2,-1], "format": "d", "labelAngle": -90, "labelOverlap": false, "labelFlush": false, "labelBound": false, "tickSize": 4, "labelPadding": 3, "offset": 7, "title": null}}, "y": {"field": "ct", "type": "quantitative", "scale": {"domain": [0, 0.3], "nice": false}, "axis": {"orient": "right", "values": [0, 0.05, 0.1, 0.15, 0.2, 0.25, 0.3], "format": ".2f", "tickSize": 5, "labelPadding": 6, "offset": 10, "title": null}}}},
   {"data": {"name": "d"}, "transform": [{"filter": "datum.s === 'SPN19' && datum.p < 0"}], "mark": {"type": "line", "color": "#0000ff", "strokeWidth": 3.8}, "encoding": {"x": {"field": "p", "type": "quantitative", "scale": {"domain": [-25, -1], "nice": false, "zero": false}, "axis": {"values": [-25,-24,-23,-22,-21,-20,-19,-18,-17,-16,-15,-14,-13,-12,-11,-10,-9,-8,-7,-6,-5,-4,-3,-2,-1], "format": "d", "labelAngle": -90, "labelOverlap": false, "labelFlush": false, "labelBound": false, "tickSize": 4, "labelPadding": 3, "offset": 7, "title": null}}, "y": {"field": "ga", "type": "quantitative", "scale": {"domain": [0, 0.3], "nice": false}, "axis": {"orient": "right", "values": [0, 0.05, 0.1, 0.15, 0.2, 0.25, 0.3], "format": ".2f", "tickSize": 5, "labelPadding": 6, "offset": 10, "title": null}}}}
  ]}
 ], "columns": 2, "spacing": {"row": 59, "column": 43}, "bounds": "flush"}
]
}
